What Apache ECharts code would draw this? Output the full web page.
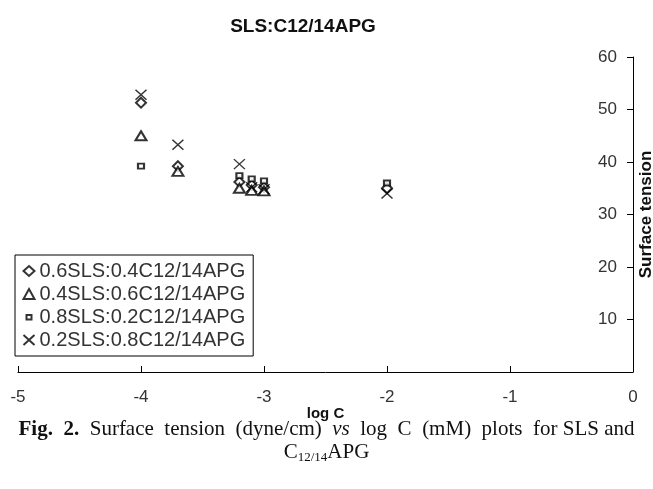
<!DOCTYPE html>
<html>
<head>
<meta charset="utf-8">
<script src="https://cdn.jsdelivr.net/npm/echarts@6/dist/echarts.min.js"></script>
<style>
    html, body { margin: 0; padding: 0; background: #fff; }
    #chart { width: 653px; height: 489px; }
</style>
</head>
<body>
<div id="chart"></div>
<script>
// values (x = log C, y = surface tension)
var seriesNames = [
    "0.6SLS:0.4C12/14APG",
    "0.4SLS:0.6C12/14APG",
    "0.8SLS:0.2C12/14APG",
    "0.2SLS:0.8C12/14APG"
];
var logC64 = [-4, -3.7, -3.2, -3.1, -3.0, -2];
var st64 = [51.3, 39.2, 36.2, 35.6, 35.2, 35.0];
var logC46 = [-4, -3.7, -3.2, -3.1, -3.0];
var st46 = [45.0, 38.2, 35.0, 34.6, 34.5];
var logC82 = [-4, -3.2, -3.1, -3.0, -2];
var st82 = [39.2, 37.4, 36.8, 36.4, 36.0];
var logC28 = [-4, -3.7, -3.2, -3.1, -3.0, -2];
var st28 = [52.8, 43.3, 39.6, 35.2, 34.8, 34.0];

function pairs(xs, ys) {
    return xs.map(function(x, i) { return [x, ys[i]]; });
}

var myChart = echarts.init(document.getElementById("chart"));
var axisFont = "Liberation Sans, Arial, sans-serif";
var serif = "'Liberation Serif', 'Times New Roman', serif";
var option = {
    backgroundColor: "#fff",
    animation: false,
    title: {
        text: "SLS:C12/14APG",
        left: 298,
        top: 12,
        textAlign: "center",
        textStyle: { fontFamily: axisFont, fontSize: 19, fontWeight: "bold", color: "#111" }
    },
    grid: { left: 18, right: 20, top: 57, bottom: 117, outerBoundsMode: "none" },
    legend: {
        orient: "vertical",
        left: 15,
        top: 255,
        padding: [6, 8, 6, 6],
        itemGap: 3,
        itemWidth: 11,
        itemHeight: 10,
        borderColor: "#000",
        borderWidth: 1,
        borderRadius: 0,
        textStyle: { fontFamily: axisFont, fontSize: 20, color: "#333" },
        data: [
            seriesNames[0],
            seriesNames[1],
            {
                name: seriesNames[2],
                icon: "path://M0,0M10,10M2.5,3h5v4.5h-5z",
                itemStyle: { color: "none", borderColor: "#000", borderWidth: 2 }
            },
            seriesNames[3]
        ]
    },
    xAxis: {
        type: "value",
        min: -5,
        max: 0,
        interval: 1,
        name: "log C",
        nameLocation: "middle",
        nameGap: 34,
        nameMoveOverlap: false,
        nameTextStyle: { fontFamily: axisFont, fontSize: 15, fontWeight: "bold", color: "#111" },
        axisLine: { lineStyle: { color: "#000", width: 1 } },
        axisTick: { inside: true, length: 6, lineStyle: { color: "#000" } },
        axisLabel: { fontFamily: axisFont, fontSize: 17, color: "#333", margin: 17 },
        splitLine: { show: false }
    },
    yAxis: {
        type: "value",
        position: "right",
        min: 0,
        max: 60,
        interval: 10,
        name: "Surface tension",
        nameLocation: "middle",
        nameRotate: 90,
        nameGap: 5,
        nameMoveOverlap: false,
        nameTextStyle: { fontFamily: axisFont, fontSize: 17, fontWeight: "bold", color: "#111" },
        axisLine: { show: true, lineStyle: { color: "#000", width: 1 } },
        axisTick: { show: true, inside: true, length: 6, lineStyle: { color: "#000" } },
        axisLabel: { inside: true, showMinLabel: false, fontFamily: axisFont, fontSize: 17, color: "#333", margin: 16 },
        splitLine: { show: false }
    },
    series: [{
        name: seriesNames[0],
        type: "scatter",
        symbol: "emptyDiamond",
        symbolSize: 10,
        itemStyle: { color: "#000", borderColor: "#000", borderWidth: 1.6 },
        data: pairs(logC64, st64)
    }, {
        name: seriesNames[1],
        type: "scatter",
        symbol: "emptyTriangle",
        symbolSize: [11, 9],
        itemStyle: { color: "#000", borderColor: "#000", borderWidth: 2 },
        data: pairs(logC46, st46)
    }, {
        name: seriesNames[2],
        type: "scatter",
        symbol: "emptyRect",
        symbolSize: [6, 5],
        itemStyle: { color: "#000", borderColor: "#000", borderWidth: 2 },
        data: pairs(logC82, st82)
    }, {
        name: seriesNames[3],
        type: "scatter",
        symbol: "path://M0,0L10,9M10,0L0,9",
        symbolSize: [11, 10],
        itemStyle: { color: "none", borderColor: "#000", borderWidth: 1.4 },
        data: pairs(logC28, st28)
    }],
    graphic: [{
        type: "text",
        left: "center",
        top: 419,
        style: {
            text: "{b|Fig.  2.}  Surface  tension  (dyne/cm)  {i|vs}  log  C  (mM)  plots  for SLS and",
            font: "21px " + serif,
            fill: "#111",
            rich: {
                b: { fontWeight: "bold", fontSize: 21, fontFamily: "Liberation Serif", fill: "#111" },
                i: { fontStyle: "italic", fontSize: 21, fontFamily: "Liberation Serif", fill: "#111" }
            }
        }
    }, {
        type: "text",
        left: "center",
        top: 442,
        style: {
            text: "C{s|12/14}APG",
            font: "21px " + serif,
            fill: "#111",
            rich: {
                s: { fontSize: 13, fontFamily: "Liberation Serif", fill: "#111", padding: [11, 0, 0, 0] }
            }
        }
    }]
};
myChart.setOption(option);
</script>
</body>
</html>
